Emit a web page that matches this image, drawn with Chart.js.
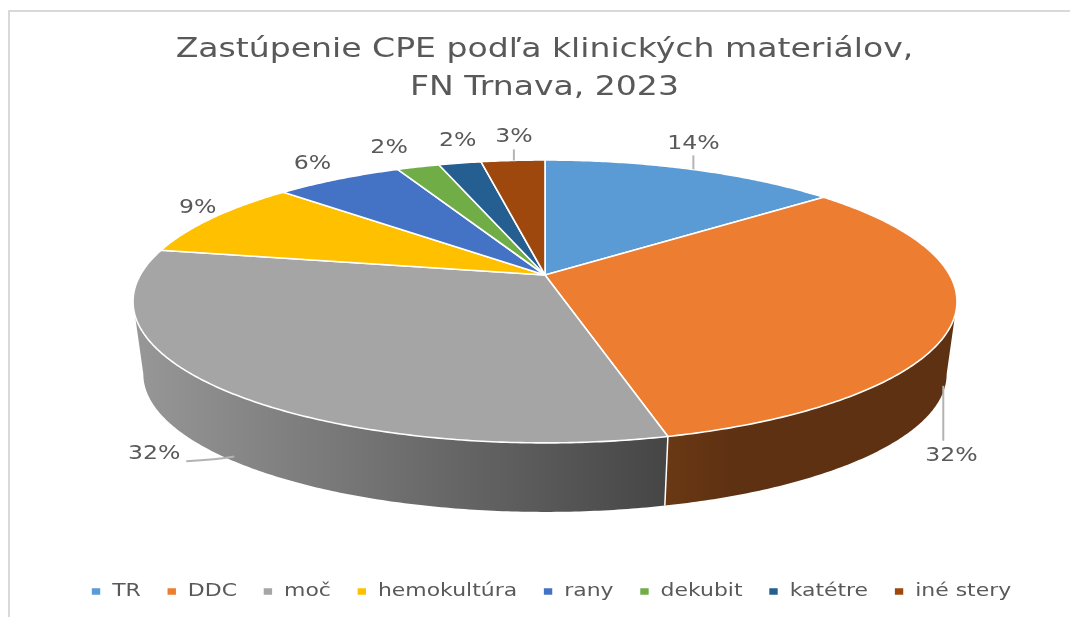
<!DOCTYPE html>
<html lang="sk">
<head>
<meta charset="utf-8">
<style>
html,body{margin:0;padding:0;background:#fff;overflow:hidden}
canvas{display:block}
</style>
<script src="https://cdn.jsdelivr.net/npm/chart.js@4"></script>
</head>
<body>
<canvas id="c" width="1070" height="617"></canvas>
<script>
const categories = ['TR','DDC','moč','hemokultúra','rany','dekubit','katétre','iné stery'];
const values = [14,32,32,9,6,2,2,3];
const colors = ['#5B9BD5','#ED7D31','#A5A5A5','#FFC000','#4472C4','#70AD47','#255E91','#9E480E'];
const titleLines = ['Zastúpenie CPE podľa klinických materiálov,','FN Trnava, 2023'];

// Perspective view of the pie disc
const view = {cx:545, cy:275, B:404.7, A:136.5, k:0.187, depthY:73.2, depthScale:0.975};
const silhouette = Math.asin(view.k);
function project(angle, lower){
  const u = Math.cos(angle), v = Math.sin(angle), d = 1 - view.k*v;
  const s = lower ? view.depthScale : 1;
  return {x: view.cx + s*view.B*u/d, y: view.cy + (lower?view.depthY:0) + s*view.A*v/d};
}
function arcPath(ctx, a0, a1, lower, first){
  const n = Math.max(2, Math.ceil(Math.abs(a1-a0)/0.01));
  for(let i=0;i<=n;i++){
    const p = project(a0+(a1-a0)*i/n, lower);
    if(i===0 && first) ctx.moveTo(p.x,p.y); else ctx.lineTo(p.x,p.y);
  }
}
// label placement relative to the slice's projected rim point (dx, dy)
const labelShift = [[1,-26],[-2,136],[-70,64],[-15,-10],[-26,-15],[-29,-19],[-2,-22],[1,-24]];
const labelStretch = 1.18;

function stretchBlock(block, sx, fromX, toX){
  const draw = block.draw;
  block.draw = function(...args){
    const c = this.ctx;
    c.save();
    c.translate(toX,0); c.scale(sx,1); c.translate(-fromX,0);
    draw.apply(this,args);
    c.restore();
  };
}

const pie3d = {
  id:'pie3d',
  afterLayout(chart){
    if(chart.$stretched) return;
    chart.$stretched = true;
    stretchBlock(chart.titleBlock, 1.272, chart.width/2, 544.5);
    stretchBlock(chart.legend, 1.29, chart.width/2, 551);
  },
  beforeDatasetsDraw(chart){
    const ctx = chart.ctx, arcs = chart.getDatasetMeta(0).data;
    ctx.save();
    // side wall, visible front part only
    arcs.forEach((arc,i)=>{
      const a0 = Math.max(arc.startAngle,silhouette), a1 = Math.min(arc.endAngle,Math.PI-silhouette);
      if(a1<=a0) return;
      ctx.beginPath();
      arcPath(ctx,a0,a1,false,true);
      arcPath(ctx,a1,a0,true,false);
      ctx.closePath();
      if(i===2){
        const g = ctx.createLinearGradient(135,0,665,0);
        g.addColorStop(0,'#979797'); g.addColorStop(1,'#464646');
        ctx.fillStyle = g;
      } else {
        const g = ctx.createLinearGradient(665,0,950,0);
        g.addColorStop(0,'#6A3814'); g.addColorStop(.25,'#5E3113'); g.addColorStop(1,'#5E3113');
        ctx.fillStyle = g;
      }
      ctx.fill();
    });
    // white seam between the front walls
    const seam = arcs[1].endAngle;
    const t = project(seam,false), b = project(seam,true);
    ctx.strokeStyle='#fff'; ctx.lineWidth=1.5;
    ctx.beginPath(); ctx.moveTo(t.x,t.y); ctx.lineTo(b.x,b.y); ctx.stroke();
    // top disc
    arcs.forEach((arc,i)=>{
      ctx.beginPath();
      ctx.moveTo(view.cx,view.cy);
      arcPath(ctx,arc.startAngle,arc.endAngle,false,false);
      ctx.closePath();
      ctx.fillStyle = colors[i];
      ctx.fill();
      ctx.strokeStyle='#fff'; ctx.lineWidth=1.6; ctx.lineJoin='round';
      ctx.stroke();
    });
    // leader lines + labels
    ctx.font = '20px "DejaVu Sans"';
    ctx.textAlign='center'; ctx.textBaseline='middle';
    arcs.forEach((arc,i)=>{
      const mid = (arc.startAngle+arc.endAngle)/2;
      const rim = project(mid,false), low = project(mid,true);
      const lx = rim.x+labelShift[i][0], ly = rim.y+labelShift[i][1];
      ctx.strokeStyle='#b3b3b3'; ctx.lineWidth=2;
      ctx.beginPath();
      if(i===0){ ctx.moveTo(lx,ly+12); ctx.lineTo(lx,rim.y); ctx.stroke(); }
      if(i===1){ ctx.moveTo(low.x,low.y-6); ctx.lineTo(low.x,ly-15); ctx.stroke(); }
      if(i===2){ ctx.moveTo(low.x+2,low.y-4); ctx.quadraticCurveTo(low.x-15,low.y-1,lx+32,ly+7); ctx.stroke(); }
      if(i===7){ ctx.moveTo(lx,ly+13); ctx.lineTo(lx,rim.y); ctx.stroke(); }
      ctx.fillStyle='#595959';
      ctx.save();
      ctx.translate(lx,ly); ctx.scale(labelStretch,1);
      ctx.fillText(values[i]+'%',0,0);
      ctx.restore();
    });
    ctx.restore();
    return false;
  }
};
const frame = {
  id:'frame',
  beforeDraw(chart){
    const c = chart.ctx;
    c.save(); c.fillStyle='#fff'; c.fillRect(0,0,chart.width,chart.height);
    c.strokeStyle='#d9d9d9'; c.lineWidth=2;
    c.beginPath(); c.moveTo(9,chart.height); c.lineTo(9,11); c.lineTo(chart.width,11); c.stroke();
    c.restore();
  }
};

new Chart(document.getElementById('c'),{
  type:'pie',
  data:{labels:categories,datasets:[{data:values,backgroundColor:colors,borderColor:'#fff',borderWidth:1.5}]},
  options:{
    responsive:false, animation:false,
    layout:{padding:{top:31,bottom:7}},
    plugins:{
      tooltip:{enabled:false},
      title:{display:true,text:titleLines,color:'#595959',font:{family:'"DejaVu Sans"',size:26,weight:'normal',lineHeight:1.47},padding:{top:0,bottom:10}},
      legend:{position:'bottom',labels:{color:'#595959',boxWidth:8,boxHeight:8,padding:20,font:{family:'"DejaVu Sans"',size:17}}}
    }
  },
  plugins:[frame,pie3d]
});
</script>
</body>
</html>
